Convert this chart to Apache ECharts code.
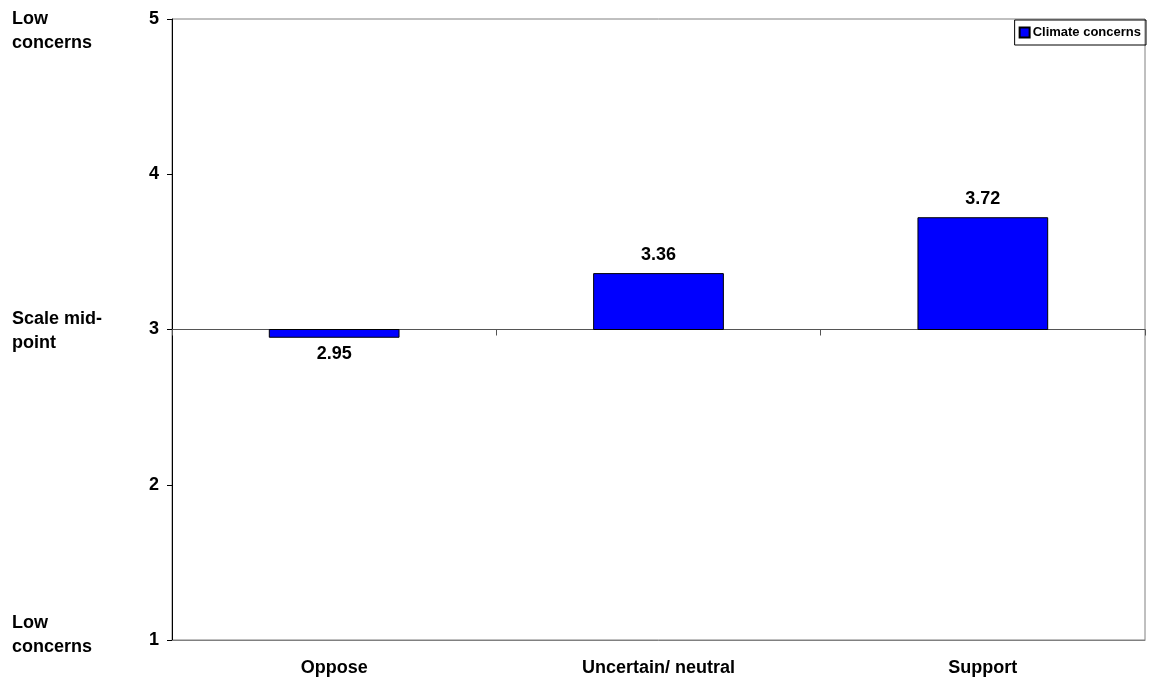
<!DOCTYPE html>
<html><head><meta charset="utf-8">
<script src="https://cdn.jsdelivr.net/npm/echarts@6/dist/echarts.min.js"></script>
<style>html,body{margin:0;padding:0;background:#fff}#c{width:1150px;height:684px}</style>
</head><body><div id="c"></div>
<script>
const categories = ['Oppose', 'Uncertain/ neutral', 'Support'];
const values = [2.95, 3.36, 3.72];
const seriesName = 'Climate concerns';
const baseline = 3;
const yTicks = [1, 2, 3, 4, 5];

const F = 'Liberation Sans, Arial, sans-serif';
const chart = echarts.init(document.getElementById('c'));
chart.setOption({
  animation: false,
  grid: {left: 172, right: 5, top: 19, bottom: 44, show: true, borderColor: '#808080', borderWidth: 1},
  legend: {
    right: 4, top: 20, data: [seriesName], icon: 'rect', itemWidth: 10, itemHeight: 10, itemGap: 4,
    borderColor: '#000', borderWidth: 1, padding: [6, 5, 6, 4],
    textStyle: {fontFamily: F, fontWeight: 'bold', fontSize: 13, color: '#000', padding: [0, 0, 0, -2]}
  },
  xAxis: [
    {type: 'category', data: categories, axisLine: {show: true, lineStyle: {color: '#808080'}},
     axisTick: {show: false},
     axisLabel: {fontFamily: F, fontWeight: 'bold', fontSize: 18, color: '#000', margin: 19}},
    {type: 'category', data: categories, position: 'bottom', offset: -310.5,
     axisLine: {show: true, lineStyle: {color: '#555'}},
     axisTick: {show: true, length: 6, lineStyle: {color: '#555'}},
     axisLabel: {show: false}}
  ],
  yAxis: {
    type: 'value', min: yTicks[0], max: yTicks[yTicks.length - 1], interval: 1,
    axisLine: {show: true, lineStyle: {color: '#000'}},
    axisTick: {show: true, length: 5, lineStyle: {color: '#000'}},
    splitLine: {show: false},
    axisLabel: {fontFamily: F, fontWeight: 'bold', fontSize: 18, color: '#000', margin: 13}
  },
  series: [{
    name: seriesName, type: 'custom', xAxisIndex: 0,
    itemStyle: {color: '#0000ff', borderColor: '#000', borderWidth: 1},
    data: values.map((v, i) => [i, v]),
    renderItem: function (params, api) {
      const i = api.value(0), v = api.value(1);
      const p1 = api.coord([i, v]);
      const p0 = api.coord([i, baseline]);
      const w = api.size([1, 0])[0] * 0.4;
      const top = Math.min(p0[1], p1[1]), h = Math.abs(p0[1] - p1[1]);
      const up = v >= baseline;
      return {
        type: 'group',
        children: [
          {type: 'rect', shape: {x: p0[0] - w / 2, y: top, width: w, height: h},
           style: {fill: '#0000ff', stroke: '#000', lineWidth: 1}},
          {type: 'text', style: {
            text: v.toFixed(2), x: p0[0], y: up ? p1[1] - 10 : p1[1] + 8,
            align: 'center', verticalAlign: up ? 'bottom' : 'top',
            font: 'bold 18px ' + F, fill: '#000'}}
        ]
      };
    }
  }],
  graphic: [
    {type: 'text', left: 12, top: 7, style: {text: 'Low\nconcerns', font: 'bold 18px ' + F, fill: '#000', lineHeight: 24}},
    {type: 'text', left: 12, top: 307, style: {text: 'Scale mid-\npoint', font: 'bold 18px ' + F, fill: '#000', lineHeight: 24}},
    {type: 'text', left: 12, top: 611, style: {text: 'Low\nconcerns', font: 'bold 18px ' + F, fill: '#000', lineHeight: 24}}
  ]
});
</script></body></html>
